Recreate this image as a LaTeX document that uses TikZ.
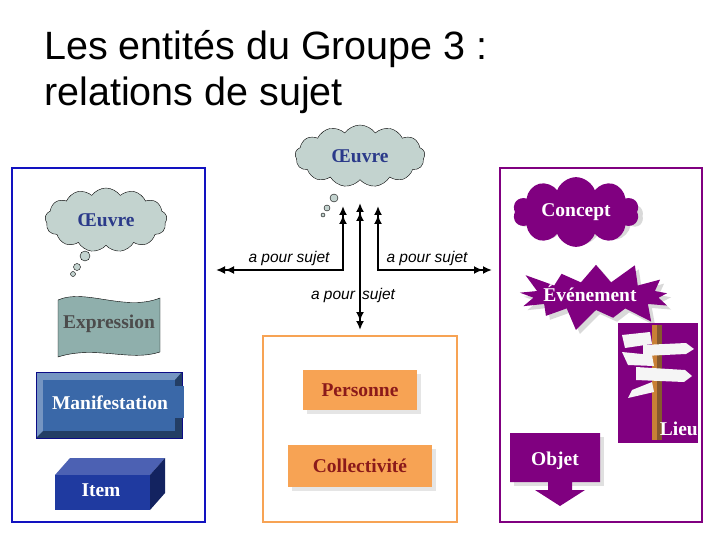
\documentclass[tikz,border=0pt]{standalone}
\usepackage{fontspec}
\setmainfont{Liberation Serif}
\setsansfont{Liberation Sans}
\usetikzlibrary{shapes.symbols,shapes.geometric,arrows.meta}
\definecolor{cloudg}{HTML}{C3D3CF}
\definecolor{navy}{HTML}{2B3A8A}
\definecolor{purp}{HTML}{800080}
\definecolor{orf}{HTML}{F7A354}
\definecolor{ortx}{HTML}{8B1A1A}
\definecolor{bluebd}{HTML}{1212C0}
\definecolor{expr}{HTML}{8FAFAC}
\definecolor{manif}{HTML}{3A68A8}
\definecolor{itemc}{HTML}{1F3AA0}
\tikzset{
 lbl/.style={font=\bfseries\fontsize{19.5}{20}\selectfont},
 cloudn/.style={cloud, cloud puffs=13, cloud puff arc=110, aspect=2, draw=black, thin, fill=cloudg, text=navy, lbl},
 bub/.style={circle, draw=black, thin, fill=cloudg, inner sep=0pt},
 tipx/.tip={Latex[length=9pt,width=8pt]},
 rel/.style={line width=2.2pt, {tipx[]tipx[]}-{tipx[]tipx[]}},
 rtxt/.style={font=\sffamily\itshape\fontsize{15.5}{16}\selectfont},
 orbox/.style={fill=orf, text=ortx, lbl, inner sep=0pt},
 burst/.style={starburst, starburst points=13, starburst point height=24pt, minimum width=174pt, minimum height=76pt},
 pcloud/.style={cloud, cloud puffs=10, cloud puff arc=140, aspect=2.2, minimum width=126pt, minimum height=58pt},
}
\begin{document}
\begin{tikzpicture}[x=1pt,y=-1pt]
\useasboundingbox (0,0) rectangle (720,540);
\node[anchor=base west, font=\sffamily\fontsize{39.5}{40}\selectfont, inner sep=0pt] (t1) at (44,60) {Les entités du Groupe 3 :};
\node[anchor=base west, font=\sffamily\fontsize{39.5}{40}\selectfont, inner sep=0pt] (t2) at (44,106) {relations de sujet};
% boxes
\draw[bluebd, line width=2.5pt] (12,168) rectangle (205,522);
\draw[orf, line width=2.5pt] (263,336) rectangle (457,522);
\draw[purp, line width=2.5pt] (500,168) rectangle (702,522);
% top cloud
\node[cloudn, minimum width=130pt, minimum height=62pt] (oc) at (360,156) {Œuvre};
\node[bub, minimum size=8pt] (b1) at (334,198) {};
\node[bub, minimum size=6pt] (b2) at (327,208) {};
\node[bub, minimum size=4pt] (b3) at (323,215) {};
% left cloud
\node[cloudn, minimum width=122pt, minimum height=64pt] (lc) at (106,220) {Œuvre};
\node[bub, minimum size=10pt] (c1) at (85,256) {};
\node[bub, minimum size=7pt] (c2) at (77,267) {};
\node[bub, minimum size=5pt] (c3) at (73,274) {};
% arrows
\coordinate (l1) at (343,206); \coordinate (l2) at (216,270);
\coordinate (m1) at (360,203); \coordinate (m2) at (360,330);
\coordinate (r1) at (378,206); \coordinate (r2) at (492,270);
\draw[rel] (l1) |- (l2);
\draw[rel] (m1) -- (m2);
\draw[rel] (r1) |- (r2);
\node[rtxt] (a1) at (289,258) {a pour sujet};
\node[rtxt] (a2) at (427,258) {a pour sujet};
\node[rtxt] (a3) at (353,295) {a pour\hspace{3pt} sujet};
% concept cloud
\node[pcloud, fill=black!15] at (580,216) {};
\node[pcloud, fill=purp, text=white, lbl] (con) at (576,212) {Concept};
% evenement
\node[burst, fill=black!15] at (600,300) {};
\node[burst, fill=purp] (evs) at (596,296) {};
\node[lbl, text=white] (ev) at (590,293) {Événement};
% Lieu
\fill[purp] (618,323) rectangle (698,443);
\fill[brown!70!black] (652,325) rectangle (662,440);
\fill[brown!85!orange] (652,325) rectangle (657,440);
\fill[white!92!gray] (622,335) -- (650,332) -- (652,344) -- (625,348) -- cycle;
\fill[white!92!gray] (643,345) -- (686,343) -- (694,349) -- (686,354) -- (643,356) -- cycle;
\fill[white!92!gray] (622,352) -- (652,355) -- (654,366) -- (628,365) -- cycle;
\fill[white!92!gray] (636,367) -- (685,370) -- (692,376) -- (684,382) -- (636,380) -- cycle;
\fill[white!92!gray] (632,390) -- (652,382) -- (654,392) -- (628,398) -- cycle;
\node[lbl, text=white, anchor=east, inner sep=1pt] (li) at (699,429) {Lieu};
% Objet
\fill[black!12] (514,437) rectangle (604,486);
\fill[purp] (510,433) -- (600,433) -- (600,482) -- (572,482) -- (572,490) -- (585,490) -- (560,506) -- (535,490) -- (548,490) -- (548,482) -- (510,482) -- cycle;
\node[lbl, text=white] (ob) at (555,461) {Objet};
% Personne / Collectivite
\fill[black!10] (307,374) rectangle (421,414);
\node[orbox, minimum width=114pt, minimum height=40pt] (pe) at (360,390) {Personne};
\fill[black!10] (292,449) rectangle (436,491);
\node[orbox, minimum width=144pt, minimum height=42pt] (co) at (360,466) {Collectivité};
% Expression
\fill[expr, draw=black, thin] (58,300) .. controls (85,288) and (125,312) .. (160,298) -- (160,352) .. controls (130,362) and (95,345) .. (58,357) -- cycle;
\node[lbl, text=black!70] (ex) at (109,324) {Expression};
% Manifestation
\fill[manif!70!white] (36,372) rectangle (182,438);
\fill[manif!60!black] (36,438) -- (182,438) -- (182,372) -- (175,380) -- (175,431) -- (43,431) -- cycle;
\draw[bluebd!70!black, thin] (36,372) rectangle (182,438);
\fill[manif] (43,380) rectangle (175,431);
\fill[manif] (43,386) rectangle (184,418);
\node[lbl, text=white] (ma) at (110,403) {Manifestation};
% Item
\fill[itemc!80!white] (55,475) -- (70,458) -- (165,458) -- (150,475) -- cycle;
\fill[itemc!60!black] (150,475) -- (165,458) -- (165,493) -- (150,510) -- cycle;
\fill[itemc] (55,475) rectangle (150,510);
\node[lbl, text=white] (it) at (101,490) {Item};
\end{tikzpicture}
\end{document}
